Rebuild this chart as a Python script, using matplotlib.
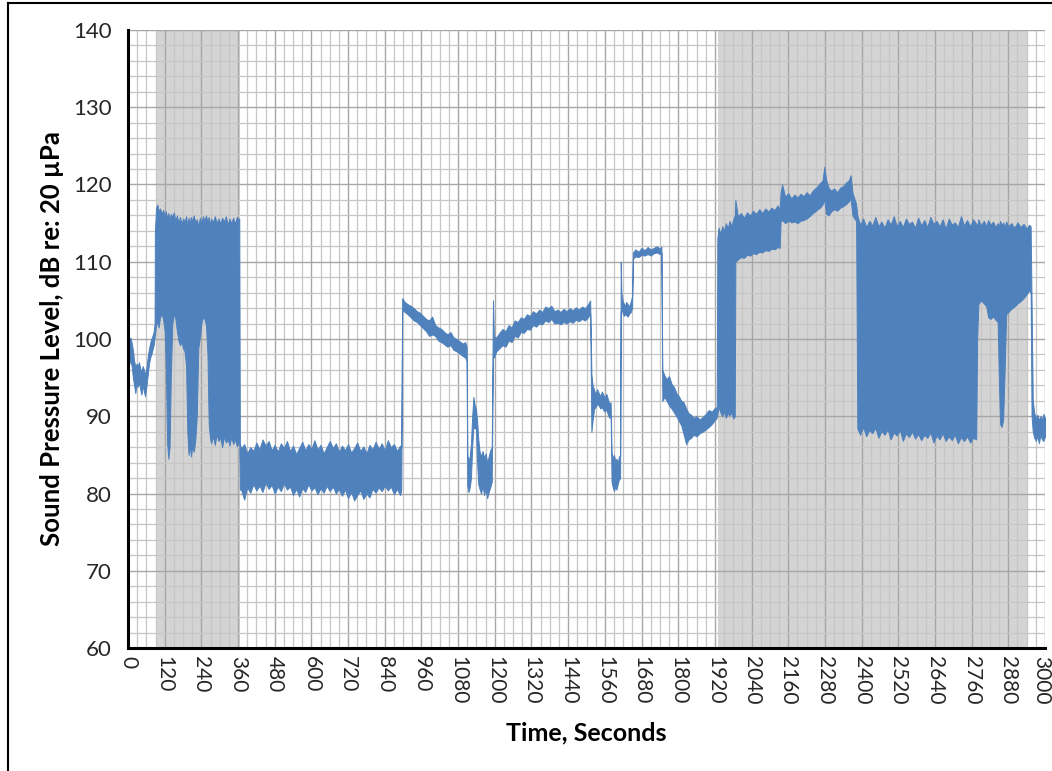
import matplotlib
matplotlib.use("Agg")
import matplotlib.pyplot as plt
from matplotlib.lines import Line2D
from matplotlib.ticker import MultipleLocator
from matplotlib.transforms import ScaledTranslation

# ---- data: envelope (min / max) of the sound pressure level trace ----
time_s = [
    # pre-event
    0, 4, 8, 12, 16, 20, 24, 28, 32, 36, 40, 44, 48, 52, 56, 60, 64, 68, 72, 76, 80, 84, 87,
    # first shaded period
    88, 92, 96, 100, 105, 110, 115, 120, 124, 128, 132, 136, 140, 145, 150, 155, 160, 165, 170, 175,
    180, 185, 190, 194, 198, 202, 206, 210, 215, 220, 225, 230, 235, 240, 245, 250, 255, 260, 264, 268,
    272, 278, 284, 290, 296, 302, 308, 314, 320, 326, 332, 338, 344, 350, 356, 360, 364,
    # low band
    366, 370, 380, 390, 400, 410, 420, 430, 440, 450, 460, 470, 480, 490, 500, 510, 520, 530, 540, 550,
    560, 570, 580, 590, 600, 610, 620, 630, 640, 650, 660, 670, 680, 690, 700, 710, 720, 730, 740, 750,
    760, 770, 780, 790, 800, 810, 820, 830, 840, 850, 860, 870, 880, 890, 894,
    # decaying line
    897, 905, 915, 925, 935, 945, 955, 965, 975, 985, 995, 1005, 1015, 1025, 1035, 1045, 1055, 1065,
    1075, 1085, 1095, 1103, 1108,
    # dip
    1110, 1114, 1118, 1122, 1126, 1130, 1134, 1138, 1142, 1146, 1150, 1155, 1160, 1165, 1170, 1175,
    1180, 1185, 1190,
    # rising line
    1194, 1197, 1205, 1215, 1225, 1235, 1245, 1255, 1265, 1275, 1285, 1295, 1305, 1315, 1325, 1335,
    1345, 1355, 1365, 1375, 1385, 1395, 1405, 1415, 1425, 1435, 1445, 1455, 1465, 1475, 1485, 1495,
    1505, 1512,
    1516, 1520, 1525, 1530, 1535, 1540, 1545, 1550, 1555, 1560, 1565, 1570, 1575, 1579,
    1582, 1586, 1590, 1594, 1598, 1602, 1606, 1610,
    1612, 1614, 1618, 1622, 1626, 1630, 1635, 1640, 1645, 1649,
    1652, 1660, 1670, 1680, 1690, 1700, 1710, 1720, 1730, 1740, 1745,
    1748, 1755, 1762, 1770, 1778, 1786, 1794, 1802, 1810, 1818, 1826, 1834, 1842, 1850, 1860, 1870,
    1880, 1890, 1900, 1910, 1918, 1926,
    # second shaded period
    1928, 1932, 1938, 1944, 1950, 1956, 1962, 1968, 1974, 1980, 1985,
    1987, 1995, 2005, 2015, 2025, 2035, 2045, 2055, 2065, 2075, 2085, 2095, 2105, 2115, 2125, 2132,
    2135, 2140, 2150, 2160, 2170, 2180, 2190, 2200, 2210, 2220, 2230, 2240,
    2248, 2256, 2264, 2272, 2278, 2284, 2292, 2300, 2310, 2320, 2330, 2340, 2350, 2358, 2364, 2370,
    2376, 2382,
    2386, 2395, 2405, 2415, 2425, 2435, 2445, 2455, 2465, 2475, 2485, 2495, 2505, 2515, 2525, 2535,
    2545, 2555, 2565, 2575, 2585, 2595, 2605, 2615, 2625, 2635, 2645, 2655, 2665, 2675, 2685, 2695,
    2705, 2715, 2725, 2735, 2745, 2755, 2765, 2775,
    2778, 2782, 2790, 2800, 2808, 2814, 2822, 2830, 2838, 2845, 2849, 2853, 2858, 2863, 2868, 2873,
    2880, 2890, 2900, 2910, 2920, 2930, 2940, 2948, 2953,
    # tail
    2956, 2960, 2965, 2970, 2975, 2980, 2985, 2990, 2995, 3000,
]

spl_max = [
    98.5, 99.8, 100.2, 99.5, 98.6, 97.2, 96.4, 96.8, 96.5, 97.0, 96.2, 95.8, 96.5, 96.0, 95.4, 96.2,
    97.5, 98.6, 99.4, 100.0, 100.4, 101.0, 102.0,
    114.0, 117.0, 117.4, 116.6, 116.9, 116.2, 116.7, 116.0, 116.5, 115.6, 116.3, 115.4, 116.2, 115.8,
    116.4, 115.3, 116.0, 115.0, 115.8, 114.9, 115.6, 115.2, 115.9, 114.6, 115.7, 115.0, 115.8, 115.2,
    116.0, 115.1, 115.5, 114.6, 115.7, 115.0, 115.9, 115.3, 116.0, 115.2, 115.8, 114.8, 115.6, 115.1,
    115.9, 115.0, 115.6, 114.9, 115.7, 115.2, 115.9, 114.8, 115.6, 115.0, 115.7, 114.9, 115.8, 115.5,
    115.6,
    86.5,
    85.8, 86.4, 85.2, 86.0, 85.5, 86.6, 85.7, 87.0, 86.2, 86.8, 85.6, 86.3, 85.4, 86.5, 85.9, 86.8,
    85.5, 86.2, 85.1, 85.9, 86.7, 85.6, 86.4, 85.8, 86.9, 85.7, 86.3, 85.2, 86.0, 86.8, 85.9, 86.5,
    85.4, 86.2, 85.6, 86.4, 85.3, 85.9, 86.6, 85.5, 86.1, 85.2, 86.3, 85.7, 86.7, 85.8, 86.5, 85.6,
    86.9, 86.0, 86.4, 85.5, 86.2,
    86.0,
    105.3, 104.8, 104.5, 104.3, 104.0, 103.6, 103.4, 103.0, 102.6, 102.4, 102.9, 101.8, 101.5, 101.3,
    100.9, 100.6, 100.9, 100.2, 100.0, 99.7, 99.4, 99.6, 99.0,
    85.0, 84.2, 84.8, 86.5, 90.0, 92.5, 91.5, 91.0, 89.5, 87.0, 85.5, 84.8, 85.5, 84.6, 85.2, 84.0,
    84.8, 85.6, 86.0,
    105.0, 100.3, 100.2, 100.8, 101.3, 101.0, 101.8, 101.5, 102.4, 102.2, 102.8, 102.6, 103.2, 103.0,
    103.6, 103.3, 103.8, 103.5, 104.2, 104.0, 104.3, 103.6, 103.8, 103.5, 103.9, 103.6, 104.0, 103.7,
    104.1, 103.8, 104.2, 104.0, 104.5, 105.0,
    95.5, 94.0, 93.4, 92.8, 93.5, 93.0, 92.6, 93.2, 92.8, 92.4, 92.9, 92.2, 91.6, 91.8,
    85.2, 84.6, 85.0, 84.2, 84.5, 83.9, 84.8, 85.0,
    110.0, 106.0, 105.0, 104.6, 104.3, 104.8, 104.5, 104.2, 104.9, 105.5,
    111.2, 111.6, 111.3, 111.8, 111.5, 111.9, 111.6, 111.8, 112.0, 111.7, 112.0,
    96.0, 95.3, 94.8, 95.2, 94.2, 93.8, 93.0, 92.6, 92.0, 91.8, 91.0, 90.4, 90.2, 89.8, 90.0, 89.6,
    89.9, 90.3, 90.8, 90.6, 91.0, 91.2,
    113.0, 114.4, 113.6, 114.6, 114.0, 115.0, 114.3, 115.3, 114.6, 115.5, 116.0,
    118.0, 115.9, 116.3, 115.7, 116.4, 116.0, 116.6, 116.2, 116.8, 116.3, 116.9, 116.5, 117.0, 116.7,
    117.3, 116.8,
    119.0, 120.0, 118.4, 118.9, 118.2, 118.7, 118.3, 118.8, 118.5, 119.0, 118.6, 119.2,
    119.5, 119.8, 120.2, 120.5, 122.3, 120.6, 119.6, 119.2, 119.5, 119.0, 119.6, 119.8, 120.3, 120.5,
    121.2, 119.0, 118.2, 117.5,
    116.0, 114.8, 115.6, 114.5, 115.3, 114.7, 115.8, 114.6, 115.2, 114.4, 115.5, 114.8, 115.9, 114.6,
    115.3, 114.5, 115.6, 114.9, 115.2, 114.4, 115.7, 114.7, 115.4, 114.5, 115.8, 114.9, 115.3, 114.6,
    115.5, 114.3, 115.6, 114.8, 115.1, 114.5, 115.9, 114.7, 115.4, 114.6, 115.5, 114.9,
    114.6, 115.5, 114.7, 115.3, 114.6, 115.4, 114.8, 115.2, 114.5, 115.0, 114.6, 115.3, 114.7, 115.1,
    114.5, 115.2, 114.6, 115.0, 114.4, 115.1, 114.5, 114.9, 114.3, 114.8, 114.6,
    105.0, 92.0, 90.4, 89.8, 90.2, 89.5, 90.0, 89.6, 90.3, 89.8,
]

spl_min = [
    95.6, 96.8, 97.2, 96.5, 95.0, 94.0, 93.0, 94.2, 93.8, 94.5, 93.5, 92.8, 94.0, 93.2, 92.6, 93.8,
    95.2, 96.6, 97.5, 98.0, 98.6, 99.2, 100.2,
    100.5, 101.8, 102.2, 101.5, 102.8, 103.3, 102.5, 101.0, 96.0, 86.5, 84.5, 86.0, 95.0, 102.0,
    103.3, 102.6, 101.0, 99.8, 99.2, 99.6, 98.8, 98.4, 96.5, 88.0, 85.0, 86.2, 84.8, 86.0, 85.4,
    86.8, 90.0, 98.8, 100.2, 102.0, 102.8, 102.6, 101.8, 98.0, 89.0, 87.2, 86.5, 87.4, 86.3, 87.6,
    86.8, 87.2, 86.0, 87.4, 86.6, 87.0, 86.2, 87.3, 86.4, 87.0, 86.1, 86.6, 86.4,
    80.5,
    80.5, 79.2, 80.8, 80.1, 81.2, 80.4, 81.0, 80.2, 81.4, 80.6, 81.1, 80.0, 80.9, 80.3, 81.3, 80.5,
    80.9, 79.8, 80.6, 79.6, 80.7, 80.2, 81.2, 80.4, 80.8, 79.9, 80.7, 80.1, 81.0, 80.3, 80.9, 80.0,
    80.6, 79.7, 80.5, 79.4, 80.2, 79.1, 79.8, 80.4, 79.3, 80.0, 79.5, 80.6, 80.1, 80.8, 80.3, 81.0,
    80.4, 80.9, 79.9, 80.6, 79.8,
    80.4,
    103.8, 103.5, 103.2, 102.8, 102.4, 102.2, 101.8, 101.4, 101.0, 100.4, 100.6, 100.4, 99.8, 99.6,
    99.3, 99.0, 99.2, 98.6, 98.4, 98.1, 97.8, 97.6, 97.2,
    81.0, 80.2, 80.8, 82.0, 86.0, 88.8, 88.4, 88.6, 84.0, 81.2, 80.6, 80.0, 81.0, 79.8, 80.6, 79.4,
    80.2, 80.8, 81.5,
    98.0, 97.6, 98.4, 98.8, 99.2, 99.0, 99.8, 99.6, 100.4, 100.2, 100.9, 100.8, 101.3, 101.2, 101.8,
    101.6, 102.0, 101.9, 102.4, 102.2, 102.6, 102.0, 102.1, 101.9, 102.2, 102.0, 102.3, 102.1, 102.5,
    102.3, 102.6, 102.4, 102.8, 103.3,
    88.0, 89.5, 91.0, 91.2, 91.6, 91.4, 91.0, 91.2, 90.8, 90.6, 90.9, 90.2, 89.8, 90.0,
    81.5, 80.8, 80.3, 80.9, 80.5, 81.2, 81.8, 82.0,
    103.5, 104.0, 103.4, 103.0, 103.2, 103.1, 102.9, 103.3, 103.5, 104.0,
    110.4, 110.7, 110.6, 110.9, 110.8, 111.0, 110.8, 111.1, 111.2, 111.0, 111.2,
    92.0, 92.5, 92.0, 91.4, 91.0, 90.5, 90.0, 89.4, 88.8, 87.6, 86.4, 87.0, 87.2, 87.6, 87.4, 87.8,
    88.0, 88.3, 88.6, 89.0, 89.4, 89.8,
    90.2, 91.2, 90.5, 90.0, 90.6, 89.8, 90.4, 90.1, 90.5, 89.7, 90.0,
    110.0, 110.3, 110.6, 110.5, 110.9, 110.8, 111.1, 111.0, 111.3, 111.2, 111.5, 111.4, 111.7, 111.6,
    111.9, 111.8,
    115.2, 115.4, 115.0, 115.3, 115.1, 115.2, 115.0, 115.3, 115.4, 115.6, 115.9, 116.3,
    116.5, 116.8, 117.0, 117.4, 118.0, 116.2, 116.0, 116.5, 116.8, 116.6, 117.0, 117.2, 117.5, 117.8,
    118.2, 116.0, 115.6, 115.3,
    88.4, 87.6, 88.6, 87.4, 88.2, 87.8, 88.5, 87.2, 88.1, 87.6, 88.3, 87.0, 87.9, 87.5, 88.2, 86.8,
    87.8, 87.3, 88.0, 87.1, 87.7, 86.9, 87.6, 87.2, 87.9, 86.6, 87.5, 87.0, 87.8, 86.8, 87.4, 86.9,
    87.6, 86.5, 87.3, 86.8, 87.4, 86.6, 87.2, 87.0,
    100.0, 104.5, 105.0, 104.6, 104.2, 102.8, 102.6, 102.9, 102.5, 102.2, 95.0, 89.0, 88.6, 89.5,
    96.0, 103.2, 103.5, 103.9, 104.2, 104.6, 104.9, 105.3, 105.8, 106.3, 106.0,
    90.0, 88.0, 87.2, 86.8, 87.5, 86.5, 87.6, 87.0, 86.8, 87.4,
]

shaded_periods = [(90, 365), (1930, 2945)]
x_ticks = [0, 120, 240, 360, 480, 600, 720, 840, 960, 1080, 1200, 1320, 1440, 1560, 1680,
           1800, 1920, 2040, 2160, 2280, 2400, 2520, 2640, 2760, 2880, 3000]
y_ticks = [60, 70, 80, 90, 100, 110, 120, 130, 140]

assert len(time_s) == len(spl_max) == len(spl_min), (len(time_s), len(spl_max), len(spl_min))

plt.rcParams['font.family'] = ['Lato', 'DejaVu Sans']

fig = plt.figure(figsize=(10.52, 7.71), dpi=100)
ax = fig.add_axes([128 / 1052, 1 - 648 / 771, (1045 - 128) / 1052, (648 - 30) / 771])

blue = '#4f81bd'
for a, b in shaded_periods:
    ax.axvspan(a, b, color='#d4d4d4', lw=0, zorder=0)

ax.fill_between(time_s, spl_min, spl_max, color=blue, lw=0.7, edgecolor=blue, zorder=3)

ax.set_xlim(0, 3000)
ax.set_ylim(60, 140)
ax.set_xticks(x_ticks)
ax.set_yticks(y_ticks)
ax.xaxis.set_minor_locator(MultipleLocator(30))
ax.yaxis.set_minor_locator(MultipleLocator(2))
ax.set_axisbelow(True)
ax.grid(which='major', color='#a6a6a6', lw=1.0, zorder=1)
ax.grid(which='minor', color='#c6c6c6', lw=0.9, zorder=1)
ax.tick_params(which='both', length=0)
ax.tick_params(axis='x', labelrotation=-90, labelsize=15, pad=6, colors='#262626')
ax.tick_params(axis='y', labelsize=16, pad=12, colors='#262626')

# keep the last x tick label inside the canvas
last = ax.get_xticklabels()[-1]
last.set_transform(last.get_transform() + ScaledTranslation(-4 / 100, 0, fig.dpi_scale_trans))

for s in ['top', 'right']:
    ax.spines[s].set_visible(False)
for s in ['left', 'bottom']:
    ax.spines[s].set_linewidth(2.2)
    ax.spines[s].set_color('black')
    ax.spines[s].set_zorder(5)

ax.set_xlabel('Time, Seconds', fontsize=18, fontweight='bold', labelpad=12)
ax.set_ylabel('Sound Pressure Level, dB re: 20 µPa', fontsize=18.5, fontweight='bold', labelpad=6)

# outer frame of the source figure
fig.add_artist(Line2D([8 / 1052, 8 / 1052], [0, 1 - 3 / 771], color='black', lw=1.5,
                      transform=fig.transFigure))
fig.add_artist(Line2D([8 / 1052, 1], [1 - 3 / 771, 1 - 3 / 771], color='black', lw=1.5,
                      transform=fig.transFigure))

fig.savefig('out.png', dpi=100)
